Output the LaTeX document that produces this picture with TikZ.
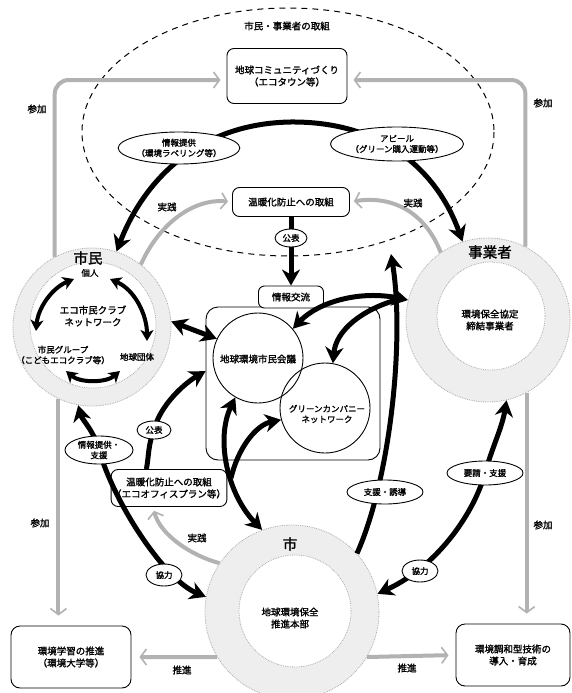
\documentclass[tikz,border=0pt]{standalone}
\usepackage{fontspec}
\newfontfamily\jp[FakeBold=1.6]{Noto Sans CJK JP}
\usetikzlibrary{arrows.meta,shapes.geometric}
\begin{document}
\begin{tikzpicture}[x=1pt,y=-1pt,
  txt/.style={font=\jp\fontsize{9.5}{12}\selectfont, align=center, inner sep=1pt},
  small/.style={font=\jp\fontsize{8.5}{10.5}\selectfont, align=center},
  big/.style={font=\jp\fontsize{14.5}{16}\selectfont, inner sep=0pt},
  rbox/.style={txt, draw, line width=0.9pt, rounded corners=7pt, fill=white},
  oval/.style={small, draw, ellipse, line width=0.9pt, fill=white, inner sep=0.5pt},
  ringout/.style={circle, draw=gray!65, densely dotted, fill=gray!13, line width=0.8pt, inner sep=0pt},
  ringin/.style={circle, draw=gray!65, densely dotted, fill=white, line width=0.8pt, inner sep=0pt},
  bigarrow/.style={line width=5pt, {Stealth[length=16pt,width=18pt,inset=5pt]}-{Stealth[length=16pt,width=18pt,inset=5pt]}},
  onearrow/.style={line width=5pt, -{Stealth[length=16pt,width=18pt,inset=5pt]}},
  midarrow/.style={line width=4pt, {Stealth[length=11pt,width=13pt,inset=3pt]}-{Stealth[length=11pt,width=13pt,inset=3pt]}},
  grayarrow/.style={draw=gray!60, line width=4pt, -{Straight Barb[length=6pt,width=16pt,line width=1.6pt]}},
  dashedge/.style={dash pattern=on 6pt off 5pt, line width=1pt},
]
\useasboundingbox (0,0) rectangle (572,693);
\fill[white] (0,0) rectangle (572,693);

% region of citizens' and businesses' own actions
\draw[dashedge] (288,132) ellipse [x radius=206, y radius=124];
\node[txt] (title) at (287,26) {市民・事業者の取組};

% the three actors
\node[ringout, minimum size=158pt] (shimin) at (92,327) {};
\node[ringin, minimum size=126pt] (shimin-in) at (93,325) {};
\node[ringout, minimum size=164pt] (jigyo) at (488,320) {};
\node[ringin, minimum size=108pt] (jigyo-in) at (491,316) {};
\node[ringout, minimum size=174pt] (shi) at (292,612) {};
\node[ringin, minimum size=112pt] (shi-in) at (295,611) {};

% central panel
\node[draw, line width=0.9pt, rounded corners=12pt, minimum width=174pt, minimum height=153pt, fill=white, inner sep=0pt] (panel) at (293,383.5) {};
\node[rbox, minimum width=65pt, minimum height=22pt, rounded corners=6pt] (tab) at (291,297) {情報交流};
\node[circle, draw, line width=0.9pt, minimum size=90pt, inner sep=0pt] (kaigi) at (258,358) {};
\node[circle, draw, line width=0.9pt, minimum size=90pt, inner sep=0pt] (green) at (325,408) {};
\node[txt] (kaigi-t) at (258,359) {地球環境市民会議};
\node[small] (green-t) at (327,414) {グリーンカンパニー\\ネットワーク};

% boxes
\node[rbox, minimum width=120pt, minimum height=55pt] (community) at (287,76) {地球コミュニティづくり\\（エコタウン等）};
\node[rbox, minimum width=117pt, minimum height=29pt] (ondan) at (291,202) {温暖化防止への取組};
\node[rbox, minimum width=105pt, minimum height=37pt] (ecobox) at (169,488) {温暖化防止への取組\\（エコオフィスプラン等）};
\node[rbox, minimum width=120pt, minimum height=62pt, rounded corners=9pt] (gakushu) at (71,657) {環境学習の推進\\（環境大学等）};
\node[rbox, minimum width=114pt, minimum height=62pt, rounded corners=9pt] (gijutsu) at (513,655) {環境調和型技術の\\導入・育成};

% centres of the labels that sit on connectors
\coordinate (c-info) at (179,148);
\coordinate (c-appeal) at (397,144);
\coordinate (toparc) at (290,122);
\coordinate (c-k1) at (291,238);
\coordinate (c-k2) at (154,430);
\coordinate (c-jsupport) at (99,450);
\coordinate (c-shien) at (385,492);
\coordinate (c-yousei) at (485,473);
\coordinate (c-kyou1) at (164,575);
\coordinate (c-kyou2) at (420,571);
\coordinate (ftip) at (391,254);
\coordinate (jbr) at (396,300);
\coordinate (sbr) at (231,478);

% participation (gray)
\draw[grayarrow, rounded corners=14pt, shorten >=6pt] (shimin.118) |- ([yshift=-4pt]community.west);
\draw[grayarrow, rounded corners=14pt, shorten >=6pt] (jigyo.63) |- ([yshift=-4pt]community.east);
\draw[grayarrow, shorten >=10pt] (shimin.-115) -- (shimin.-115 |- gakushu.north);
\draw[grayarrow, shorten >=10pt] (jigyo.-62) -- (jigyo.-62 |- gijutsu.north);

% practice (gray)
\draw[grayarrow, shorten >=4pt] (shimin.52) .. controls (160,222) and (195,198) .. (ondan.west);
\draw[grayarrow, shorten >=4pt] (jigyo.125) .. controls (425,212) and (392,195) .. (ondan.east);
\draw[grayarrow, shorten >=4pt] (shi.146) .. controls (192,556) and (160,535) .. (ecobox.-130);

% promotion (gray)
\draw[grayarrow, shorten >=8pt] (shi.-149) -- (gakushu.east);
\draw[grayarrow, shorten >=7pt] (shi.-31) -- (gijutsu.west);

% black connectors
\draw[bigarrow] (shimin.72) .. controls (140,190) and (190,124) .. (toparc) .. controls (390,121) and (440,178) .. (jigyo.108);
\draw[onearrow] (ondan.south) -- (tab.north);
\draw[bigarrow] (shimin.4) -- (kaigi.155);
\draw[bigarrow] (jigyo.166) .. controls (360,290) and (318,302) .. (kaigi.40);
\draw[onearrow] (jbr) .. controls (362,310) and (336,330) .. (green.80);
\draw[onearrow] (shi.42) .. controls (390,480) and (405,340) .. (ftip);
\draw[bigarrow] (shi.12) .. controls (440,565) and (475,510) .. (c-yousei) .. controls (493,445) and (502,428) .. (jigyo.-77);
\draw[bigarrow] (shi.170) .. controls (165,580) and (115,505) .. (c-jsupport) .. controls (93,429) and (82,420) .. (shimin.-100);
\draw[onearrow] (ecobox.140) .. controls (149,455) and (148,445) .. (c-k2) .. controls (160,405) and (185,383) .. (panel.172);
\draw[bigarrow] (kaigi.-120) .. controls (215,440) and (228,495) .. (shi.110);
\draw[onearrow] (sbr) .. controls (238,448) and (256,425) .. (green.195);

% labels on the connectors
\node[oval, minimum width=102pt, minimum height=32pt] (info) at (c-info) {情報提供\\（環境ラベリング等）};
\node[oval, minimum width=108pt, minimum height=34pt] (appeal) at (c-appeal) {アピール\\（グリーン購入運動等）};
\node[oval, minimum width=32pt, minimum height=18pt] (kouhyou1) at (c-k1) {公表};
\node[oval, minimum width=34pt, minimum height=18pt] (kouhyou2) at (c-k2) {公表};
\node[oval, minimum width=68pt, minimum height=28pt] (jsupport) at (c-jsupport) {情報提供・\\支援};
\node[oval, minimum width=76pt, minimum height=24pt] (shien) at (c-shien) {支援・誘導};
\node[oval, minimum width=76pt, minimum height=24pt] (yousei) at (c-yousei) {要請・支援};
\node[oval, minimum width=36pt, minimum height=22pt] (kyou1) at (c-kyou1) {協力};
\node[oval, minimum width=36pt, minimum height=22pt] (kyou2) at (c-kyou2) {協力};

% citizens' network inside the ring
\node[big] (shimin-t) at (88,258) {市民};
\node[small] (kojin) at (90,273) {個人};
\node[txt] (ecoclub) at (93,316) {エコ市民クラブ\\ネットワーク};
\node[small] (group) at (63,355) {市民グループ\\（こどもエコクラブ等）};
\node[small] (dantai) at (137,357) {地球団体};
\coordinate (k1) at (74,279);
\coordinate (g1) at (36,331);
\coordinate (k2) at (110,279);
\coordinate (d1) at (147,341);
\coordinate (g2) at (66,371);
\coordinate (d2) at (120,371);
\draw[midarrow] (k1) .. controls (52,288) and (38,308) .. (g1);
\draw[midarrow] (k2) .. controls (135,290) and (147,315) .. (d1);
\draw[midarrow] (g2) .. controls (80,383) and (106,383) .. (d2);

% businesses and the city
\node[big] (jigyo-t) at (490,252) {事業者};
\node[txt] (jigyo-in-t) at (490,320) {環境保全協定\\締結事業者};
\node[big] (shi-t) at (290,544) {市};
\node[txt] (shi-in-t) at (290,618) {地球環境保全\\推進本部};

% connector captions
\node[txt] (jissen1) at (167,207) {実践};
\node[txt] (jissen2) at (413,203) {実践};
\node[txt] (jissen3) at (197,538) {実践};
\node[txt] (sanka1) at (37,109) {参加};
\node[txt] (sanka2) at (543,103) {参加};
\node[txt] (sanka3) at (40,523) {参加};
\node[txt] (sanka4) at (543,525) {参加};
\node[txt] (suishin1) at (182,670) {推進};
\node[txt] (suishin2) at (407,668) {推進};
\end{tikzpicture}
\end{document}
